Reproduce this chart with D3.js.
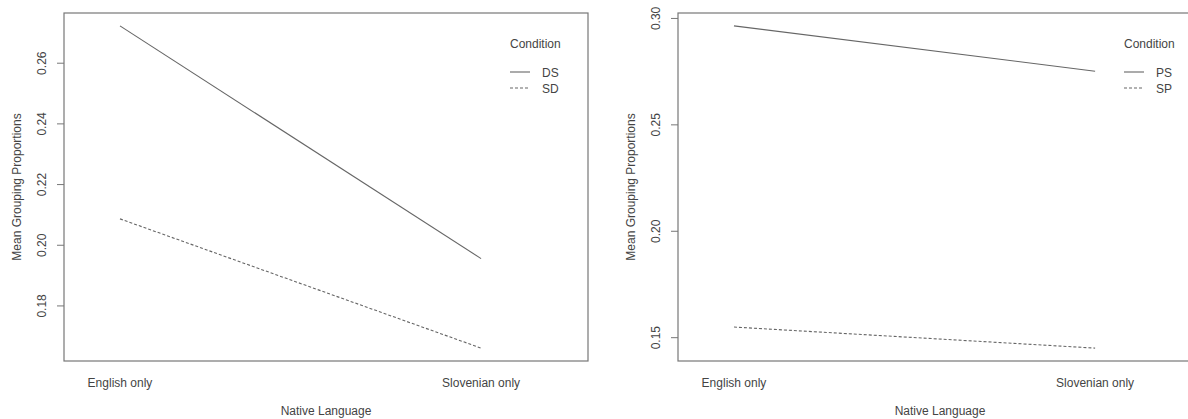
<!DOCTYPE html>
<html>
<head>
<meta charset="utf-8">
<script src="https://cdn.jsdelivr.net/npm/d3@7"></script>
<style>
  body { margin: 0; background: #fff; }
  text { font-family: "Liberation Sans", Arial, sans-serif; fill: #444; }
</style>
</head>
<body>
<svg id="chart" width="1188" height="419"></svg>
<script>
// categories on the x axis
var languages = ["English only", "Slovenian only"];

// left panel
var leftConditions = ["DS", "SD"];
var leftDS = [0.2723, 0.1956];
var leftSD = [0.2087, 0.1661];
var leftTicks = [0.18, 0.20, 0.22, 0.24, 0.26];

// right panel
var rightConditions = ["PS", "SP"];
var rightPS = [0.2965, 0.2752];
var rightSP = [0.1550, 0.1451];
var rightTicks = [0.15, 0.20, 0.25, 0.30];

var svg = d3.select("#chart");

function panel(left, series, names, ticks) {
  var top = 13, bottom = 361, width = 524;
  var right = left + width;

  // R style: data range padded 4%
  var all = series[0].concat(series[1]);
  var lo = d3.min(all), hi = d3.max(all), pad = (hi - lo) * 0.04;

  var x = d3.scaleLinear().domain([0.845, 2.296]).range([left, right]);
  var y = d3.scaleLinear().domain([lo - pad, hi + pad]).range([bottom, top]);

  var g = svg.append("g");

  g.append("rect")
    .attr("x", left).attr("y", top)
    .attr("width", width).attr("height", bottom - top)
    .attr("fill", "none").attr("stroke", "#777").attr("stroke-width", 1.2);

  // y axis ticks + rotated labels
  var yAxis = g.append("g");
  yAxis.selectAll("line").data(ticks).enter().append("line")
    .attr("x1", left - 7).attr("x2", left)
    .attr("y1", function(d){ return y(d); })
    .attr("y2", function(d){ return y(d); })
    .attr("stroke", "#777");
  yAxis.selectAll("text").data(ticks).enter().append("text")
    .attr("transform", function(d){ return "translate(" + (left - 18) + "," + y(d) + ") rotate(-90)"; })
    .attr("text-anchor", "middle")
    .attr("font-size", 12)
    .text(function(d){ return d3.format(".2f")(d); });

  // x category labels (no ticks, like interaction.plot)
  g.selectAll(".xl").data(languages).enter().append("text")
    .attr("x", function(d, i){ return x(i + 1); })
    .attr("y", 387)
    .attr("text-anchor", "middle")
    .attr("font-size", 12)
    .text(function(d){ return d; });

  g.append("text")
    .attr("x", (left + right) / 2).attr("y", 415)
    .attr("text-anchor", "middle").attr("font-size", 12)
    .text("Native Language");

  g.append("text")
    .attr("transform", "translate(" + (left - 43) + "," + ((top + bottom) / 2) + ") rotate(-90)")
    .attr("text-anchor", "middle").attr("font-size", 12)
    .text("Mean Grouping Proportions");

  var line = d3.line()
    .x(function(d, i){ return x(i + 1); })
    .y(function(d){ return y(d); });

  var dashes = [null, "3,2"];
  series.forEach(function(s, k){
    g.append("path")
      .attr("d", line(s))
      .attr("fill", "none")
      .attr("stroke", "#666")
      .attr("stroke-width", 1.1)
      .attr("stroke-dasharray", dashes[k]);
  });

  // legend
  var lx = right - 78;
  g.append("text").attr("x", lx).attr("y", 48).attr("font-size", 12).text("Condition");
  names.forEach(function(n, k){
    var ly = 72 + k * 16;
    g.append("line")
      .attr("x1", lx).attr("x2", lx + 20)
      .attr("y1", ly).attr("y2", ly)
      .attr("stroke", "#666").attr("stroke-width", 1.1)
      .attr("stroke-dasharray", dashes[k]);
    g.append("text").attr("x", lx + 32).attr("y", ly + 4.5)
      .attr("font-size", 12).text(n);
  });
}

panel(64, [leftDS, leftSD], leftConditions, leftTicks);
panel(678, [rightPS, rightSP], rightConditions, rightTicks);
</script>
</body>
</html>
